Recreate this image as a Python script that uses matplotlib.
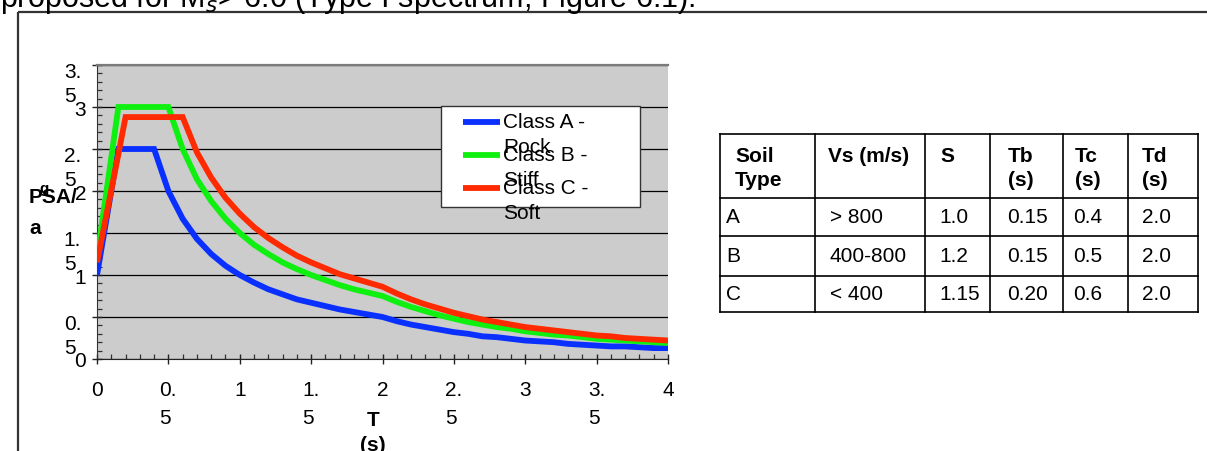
import matplotlib
matplotlib.use("Agg")
import matplotlib.pyplot as plt
import matplotlib.transforms as mtransforms
from matplotlib.patches import Rectangle
from matplotlib.ticker import MultipleLocator

plt.rcParams['font.family'] = ['Liberation Sans', 'DejaVu Sans']

# ---------------- data ----------------
T = [0.0, 0.15, 0.2, 0.3, 0.4, 0.5, 0.6, 0.7, 0.8, 0.9, 1.0, 1.1, 1.2, 1.3, 1.4, 1.5,
     1.6, 1.7, 1.8, 1.9, 2.0, 2.1, 2.2, 2.3, 2.4, 2.5, 2.6, 2.7, 2.8, 2.9, 3.0,
     3.1, 3.2, 3.3, 3.4, 3.5, 3.6, 3.7, 3.8, 3.9, 4.0]
class_a = [1.00, 2.50, 2.50, 2.50, 2.50, 2.00, 1.67, 1.43, 1.25, 1.11, 1.00, 0.91, 0.83, 0.77, 0.71, 0.67,
           0.63, 0.59, 0.56, 0.53, 0.50, 0.45, 0.41, 0.38, 0.35, 0.32, 0.30, 0.27, 0.26, 0.24, 0.22,
           0.21, 0.20, 0.18, 0.17, 0.16, 0.15, 0.15, 0.14, 0.13, 0.13]
class_b = [1.20, 3.00, 3.00, 3.00, 3.00, 3.00, 2.50, 2.14, 1.88, 1.67, 1.50, 1.36, 1.25, 1.15, 1.07, 1.00,
           0.94, 0.88, 0.83, 0.79, 0.75, 0.68, 0.62, 0.57, 0.52, 0.48, 0.44, 0.41, 0.38, 0.36, 0.33,
           0.31, 0.29, 0.28, 0.26, 0.24, 0.23, 0.22, 0.21, 0.20, 0.19]
class_c = [1.15, 2.44, 2.88, 2.88, 2.88, 2.88, 2.88, 2.46, 2.16, 1.92, 1.73, 1.57, 1.44, 1.33, 1.23, 1.15,
           1.08, 1.01, 0.96, 0.91, 0.86, 0.78, 0.71, 0.65, 0.60, 0.55, 0.51, 0.47, 0.44, 0.41, 0.38,
           0.36, 0.34, 0.32, 0.30, 0.28, 0.27, 0.25, 0.24, 0.23, 0.22]
series_names = ["Class A -\nRock", "Class B -\nStiff", "Class C -\nSoft"]
series_colors = ["#0A30FF", "#10F010", "#FF2A00"]

yticks = [0, 0.5, 1, 1.5, 2, 2.5, 3, 3.5]
ytick_labels = ["0", "0.\n5", "1", "1.\n5", "2", "2.\n5", "3", "3.\n5"]
xticks = [0, 0.5, 1, 1.5, 2, 2.5, 3, 3.5, 4]
xtick_labels = ["0", "0.\n5", "1", "1.\n5", "2", "2.\n5", "3", "3.\n5", "4"]

table_header = ["Soil\nType", "Vs (m/s)", "S", "Tb\n(s)", "Tc\n(s)", "Td\n(s)"]
table_rows = [
    ["A", "> 800", "1.0", "0.15", "0.4", "2.0"],
    ["B", "400-800", "1.2", "0.15", "0.5", "2.0"],
    ["C", "< 400", "1.15", "0.20", "0.6", "2.0"],
]
caption = "proposed for M$_s$> 6.0 (Type I spectrum, Figure 6.1)."

# ---------------- figure ----------------
W, H = 1207, 452
fig = plt.figure(figsize=(W / 100, H / 100), dpi=100)
fig.patch.set_facecolor("white")

ax = fig.add_axes([97 / W, 1 - 360 / H, (668 - 97) / W, (360 - 66) / H])
ax.set_facecolor("#CCCCCC")
ax.set_xlim(0, 4)
ax.set_ylim(0, 3.5)

for vals, col in zip([class_a, class_b, class_c], series_colors):
    ax.plot(T, vals, color=col, lw=4.2, solid_joinstyle="miter", solid_capstyle="butt", zorder=3)

ax.set_axisbelow(True)
ax.yaxis.grid(True, color="black", lw=0.9)
ax.spines["right"].set_visible(False)
ax.spines["top"].set_color("#7A7A7A")
ax.spines["top"].set_linewidth(1.6)
ax.spines["left"].set_color("#333333")
ax.spines["bottom"].set_color("#222222")

ax.set_yticks(yticks)
ax.set_xticks(xticks)
ax.yaxis.set_minor_locator(MultipleLocator(0.1))
ax.xaxis.set_minor_locator(MultipleLocator(0.1))
ax.tick_params(which="major", direction="inout", length=7.5, width=1.0, colors="#222222",
               labelsize=15, labelcolor="black", pad=4)
ax.tick_params(which="minor", direction="in", length=3.8, width=0.9, colors="#333333")
ax.set_yticklabels(ytick_labels)
ax.set_xticklabels(xtick_labels)

for lab in ax.get_yticklabels():
    if "\n" in lab.get_text():
        lab.set_va("top")
        lab.set_multialignment("left")
        lab.set_linespacing(1.35)
        lab.set_transform(lab.get_transform() +
                          mtransforms.ScaledTranslation(-5 / 100, 3 / 100, fig.dpi_scale_trans))
for lab in ax.get_xticklabels():
    lab.set_multialignment("left")
    lab.set_linespacing(1.6)
    lab.set_transform(lab.get_transform() +
                      mtransforms.ScaledTranslation(0, -10 / 100, fig.dpi_scale_trans))

# ---------------- overlay in pixel coords ----------------
ov = fig.add_axes([0, 0, 1, 1], zorder=5)
ov.set_xlim(0, W)
ov.set_ylim(H, 0)
ov.axis("off")
ov.patch.set_visible(False)


def put(x, y, s, pitch, **kw):
    for i, line in enumerate(s.split("\n")):
        ov.text(x, y + i * pitch, line, va="center", **kw)


# outer chart frame and caption
ov.plot([18, W], [13, 13], color="#333333", lw=1.6, solid_capstyle="butt")
ov.plot([18, 18], [13, H], color="#333333", lw=1.6, solid_capstyle="butt")
ov.text(0, 7, caption, fontsize=22, ha="left", va="baseline")

# axis titles
ov.text(29, 198, "PSA/", fontsize=15, fontweight="bold", ha="left", va="center")
ov.text(29, 229, "a", fontsize=15, fontweight="bold", ha="left", va="center")
ov.text(39, 189, "g", fontsize=11, fontweight="bold", ha="left", va="center")
ov.text(373, 421, "T", fontsize=15, fontweight="bold", ha="center", va="center")
ov.text(373, 446, "(s)", fontsize=15, fontweight="bold", ha="center", va="center")

# legend
ov.add_patch(Rectangle((441, 107), 199, 101, facecolor="white", edgecolor="#333333", lw=1.0))
for i, (name, col) in enumerate(zip(series_names, series_colors)):
    yy = 123 + i * 33
    ov.plot([463, 500], [yy, yy], color=col, lw=4.2, solid_capstyle="butt")
    put(503, yy, name, 25, fontsize=15, ha="left")

# table
col_x = [720, 815, 925, 990, 1063, 1128, 1198]
row_y = [135, 199, 237, 277, 313]
head_pad = [15, 13, 15, 18, 12, 14]
data_pad = [6, 15, 14, 17, 10, 14]
for x in col_x:
    ov.plot([x, x], [row_y[0], row_y[-1]], color="black", lw=1.2, solid_capstyle="projecting")
for y in row_y:
    ov.plot([col_x[0], col_x[-1]], [y, y], color="black", lw=1.2, solid_capstyle="projecting")
for j, h in enumerate(table_header):
    put(col_x[j] + head_pad[j], 157, h, 24, fontsize=15, fontweight="bold", ha="left")
for i, row in enumerate(table_rows):
    yc = (row_y[i + 1] + row_y[i + 2]) / 2
    for j, v in enumerate(row):
        put(col_x[j] + data_pad[j], yc, v, 24, fontsize=15, ha="left")

fig.savefig("out.png", dpi=100)
